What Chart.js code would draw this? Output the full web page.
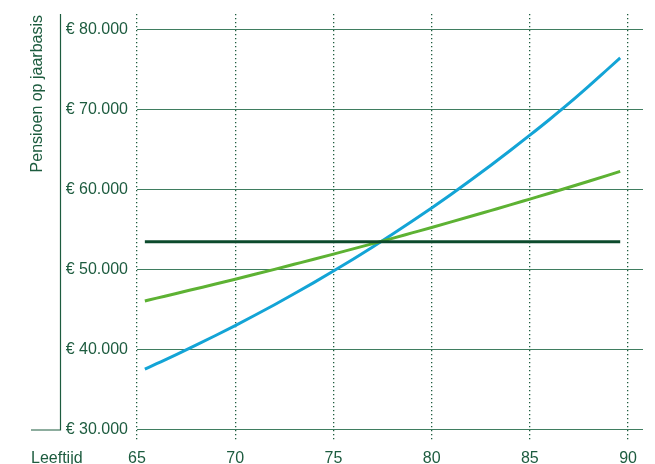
<!DOCTYPE html>
<html>
<head>
<meta charset="utf-8">
<script src="https://cdn.jsdelivr.net/npm/chart.js@4"></script>
<style>
  html, body { margin: 0; padding: 0; background: #fff; }
  #wrap { width: 655px; height: 464px; }
</style>
</head>
<body>
<div id="wrap"><canvas id="pensionChart" width="655" height="464"></canvas></div>
<script>
// Data
const ages = [65.4, 66, 67, 68, 69, 70, 71, 72, 73, 74, 75, 76, 77, 78, 79, 80, 81, 82, 83, 84, 85, 86, 87, 88, 89, 89.6];
const pensionBlue = [37600, 38270, 39400, 40580, 41790, 43030, 44310, 45630, 46990, 48390, 49830, 51310, 52840, 54410, 56030, 57700, 59410, 61180, 63000, 64870, 66780, 68740, 70770, 72900, 75100, 76420];
const pensionGreen = [46100, 46450, 47030, 47620, 48210, 48810, 49420, 50040, 50670, 51300, 51940, 52590, 53250, 53910, 54590, 55270, 55960, 56660, 57370, 58080, 58810, 59540, 60290, 61040, 61800, 62270];
const flatAges = [65.4, 89.6];
const pensionFlat = [53500, 53500];
const xTicks = [65, 70, 75, 80, 85, 90];
const yTicks = [30000, 40000, 50000, 60000, 70000, 80000];

const textColor = "#1d5c3f";
const font = { family: "'Liberation Sans', Arial, sans-serif", size: 16 };

function toPoints(xs, ys) {
    return xs.map((x, i) => ({ x: x, y: ys[i] }));
}

function euro(v) {
    return "€ " + String(v).replace(/\B(?=(\d{3})+(?!\d))/g, ".");
}

// Axis line, corner stub and the two loose labels
const decorations = {
    id: "decorations",
    afterDraw(chart) {
        const { ctx, chartArea } = chart;
        const yScale = chart.scales.y;
        const yBase = yScale.getPixelForValue(30000);

        ctx.save();
        ctx.strokeStyle = textColor;
        ctx.lineWidth = 1.2;
        ctx.beginPath();
        ctx.moveTo(60.5, chartArea.top);
        ctx.lineTo(60.5, yBase);
        ctx.lineTo(31, yBase);
        ctx.stroke();

        ctx.fillStyle = textColor;
        ctx.font = "16px 'Liberation Sans', Arial, sans-serif";

        // x-axis caption
        ctx.textAlign = "left";
        ctx.textBaseline = "alphabetic";
        ctx.fillText("Leeftijd", 31, 463);

        // y-axis caption, rotated
        ctx.translate(38, chartArea.top + 1);
        ctx.rotate(-Math.PI / 2);
        ctx.textAlign = "right";
        ctx.textBaseline = "middle";
        ctx.fillText("Pensioen op jaarbasis", 0, 0);
        ctx.restore();
    },
};

const ctx = document.getElementById("pensionChart").getContext("2d");

new Chart(ctx, {
    type: "line",
    data: {
        datasets: [
            {
                data: toPoints(flatAges, pensionFlat),
                borderColor: "#0c4a2c",
                borderWidth: 3,
                pointRadius: 0,
            },
            {
                data: toPoints(ages, pensionGreen),
                borderColor: "#5db233",
                borderWidth: 3,
                pointRadius: 0,
                cubicInterpolationMode: "monotone",
            },
            {
                data: toPoints(ages, pensionBlue),
                borderColor: "#13a4d6",
                borderWidth: 3,
                pointRadius: 0,
                cubicInterpolationMode: "monotone",
            },
        ],
    },
    options: {
        responsive: false,
        animation: false,
        layout: { padding: { top: 14, right: 12, left: 0, bottom: 0 } },
        plugins: { legend: { display: false }, tooltip: { enabled: false } },
        scales: {
            x: {
                type: "linear",
                min: 65,
                max: 90.76,
                afterBuildTicks(scale) {
                    scale.ticks = xTicks.map((v) => ({ value: v }));
                },
                afterFit(scale) {
                    scale.height = 22;
                    scale.paddingLeft = 0;
                    scale.paddingRight = 0;
                },
                grid: {
                    color: textColor,
                    lineWidth: 1.3,
                    drawTicks: false,
                },
                border: { display: false, dash: [1.3, 2.7] },
                ticks: {
                    color: textColor,
                    font: font,
                    padding: 7,
                    maxRotation: 0,
                    callback: (v) => v,
                },
            },
            y: {
                min: 28500,
                max: 81900,
                afterBuildTicks(scale) {
                    scale.ticks = yTicks.map((v) => ({ value: v }));
                },
                afterFit(scale) {
                    scale.width = 137;
                    scale.paddingTop = 0;
                    scale.paddingBottom = 0;
                },
                grid: {
                    color: "#3f7d60",
                    lineWidth: 1,
                    drawTicks: false,
                },
                border: { display: false },
                ticks: {
                    color: textColor,
                    font: font,
                    padding: 9,
                    callback: (v) => euro(v),
                },
            },
        },
    },
    plugins: [decorations],
});
</script>
</body>
</html>
